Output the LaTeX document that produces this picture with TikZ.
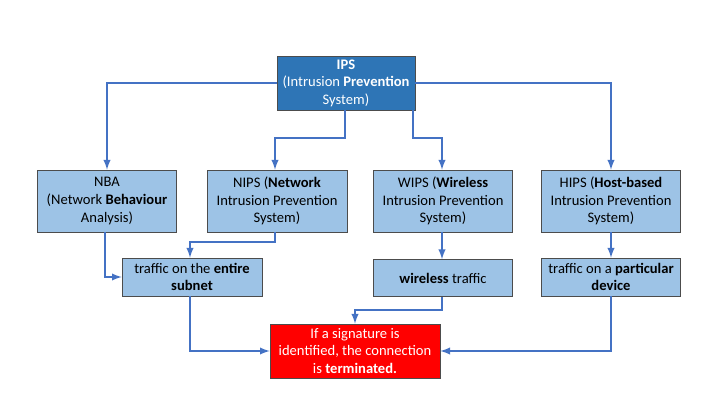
\documentclass[tikz,border=0pt]{standalone}
\usepackage{fontspec}
\setmainfont{Carlito}
\definecolor{ipsDark}{RGB}{46,117,182}
\definecolor{ipsLight}{RGB}{157,195,230}
\definecolor{ipsLine}{RGB}{68,114,196}
\definecolor{ipsRed}{RGB}{255,0,0}
\begin{document}
\begin{tikzpicture}[x=0.02cm, y=-0.02cm]
            % Styles
            \tikzstyle{box} = [rectangle, draw=black!70, fill=ipsLight, text=black, align=center, font=\fontsize{8.3}{10}\selectfont, inner sep=1pt]
            \tikzstyle{link} = [draw=ipsLine, line width=0.9pt, -latex]
            \useasboundingbox (0,0) rectangle (720,405);

            % Top
            \node[box, fill=ipsDark, text=white, minimum width=2.76cm, minimum height=1.08cm] (ips) at (346,83) {\textbf{IPS}\\(Intrusion \textbf{Prevention}\\System)};

            % Types
            \node[box, minimum width=2.78cm, minimum height=1.24cm] (nba) at (107,201) {NBA\\(Network \textbf{Behaviour}\\Analysis)};
            \node[box, minimum width=2.8cm, minimum height=1.24cm] (nips) at (277,201) {NIPS (\textbf{Network}\\Intrusion Prevention\\System)};
            \node[box, minimum width=2.78cm, minimum height=1.24cm] (wips) at (443,201) {WIPS (\textbf{Wireless}\\Intrusion Prevention\\System)};
            \node[box, minimum width=2.78cm, minimum height=1.24cm] (hips) at (611,201) {HIPS (\textbf{Host-based}\\Intrusion Prevention\\System)};

            % Scope
            \node[box, minimum width=2.8cm, minimum height=0.76cm] (subnet) at (192,277) {traffic on the \textbf{entire}\\\textbf{subnet}};
            \node[box, minimum width=2.78cm, minimum height=0.74cm] (wless) at (443,278) {\textbf{wireless} traffic};
            \node[box, minimum width=2.78cm, minimum height=0.76cm] (device) at (611,277) {traffic on a \textbf{particular}\\\textbf{device}};

            % Result
            \node[box, fill=ipsRed, text=white, minimum width=3.4cm, minimum height=1.08cm] (term) at (355,351) {If a signature is\\identified, the connection\\is \textbf{terminated.}};

            % Connectors
            \draw[link] (ips.west) -| (nba.north);
            \draw[link] (ips.south -| 345,0) |- (275,138) -- (nips.north -| 275,0);
            \draw[link] (ips.south -| 413,0) |- (442,138) -- (wips.north -| 442,0);
            \draw[link] (ips.east) -| (hips.north);
            \draw[link] (nba.south -| 105,0) |- (subnet.west);
            \draw[link] (nips.south -| 275,0) |- (190,242) -- (subnet.north -| 190,0);
            \draw[link] (wips.south -| 442,0) -- (wless.north -| 442,0);
            \draw[link] (hips.south) -- (device.north);
            \draw[link] (subnet.south -| 190,0) |- (term.west);
            \draw[link] (wless.south -| 442,0) |- (355,310) -- (term.north);
            \draw[link] (device.south) |- (term.east);
        \end{tikzpicture}
\end{document}
